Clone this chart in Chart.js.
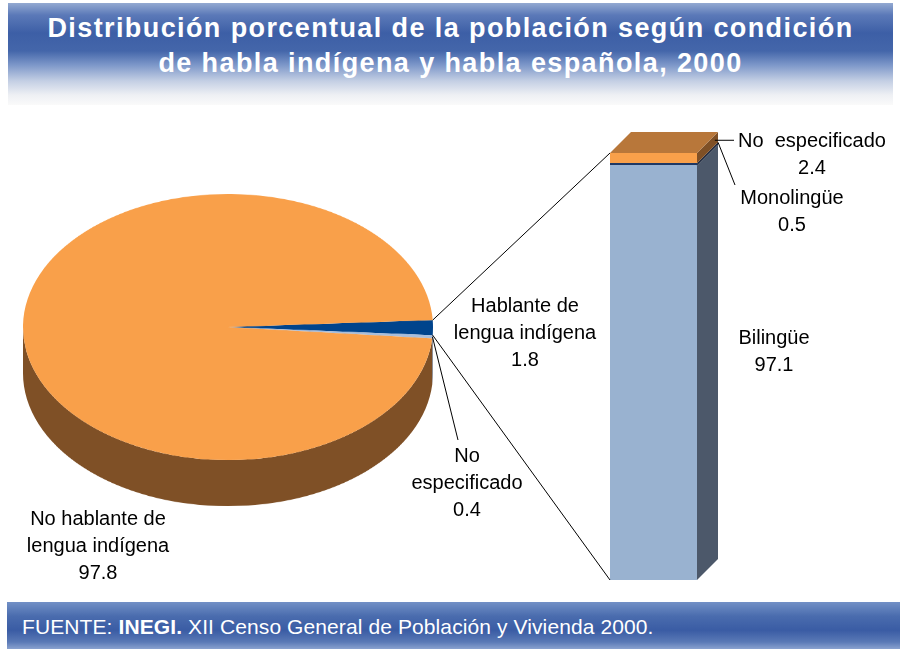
<!DOCTYPE html>
<html lang="es">
<head>
<meta charset="utf-8">
<title>Distribución porcentual de la población</title>
<script src="https://cdn.jsdelivr.net/npm/chart.js@4.4.1/dist/chart.umd.min.js"></script>
<style>
  body { margin: 0; width: 900px; height: 649px; background: #fff; position: relative; overflow: hidden;
         font-family: "Liberation Sans", Arial, sans-serif; }
  #titulo { position: absolute; left: 8px; top: 3px; width: 885px; height: 102px; box-sizing: border-box;
            padding-top: 8px; color: #fff; font-weight: bold; font-size: 27px; letter-spacing: 1.4px;
            line-height: 35px; text-align: center;
            background: linear-gradient(180deg, #93a9d1 0px, #5b79b8 12px, #3d5fa6 30px, #4466aa 48px,
                        #7d97c9 62px, #c4cfe4 78px, #eef0f4 92px, #fafafa 102px); }
  #fuente { position: absolute; left: 7px; top: 602px; width: 893px; height: 47px; box-sizing: border-box;
            padding-left: 15px; color: #fff; font-size: 21px; line-height: 49px; letter-spacing: 0.1px;
            background: linear-gradient(180deg, #7290c6 0%, #4a6cae 30%, #3a5ca4 60%, #5a79b6 85%, #8aa2cf 100%); }
  #pieBox { position: absolute; left: 23px; top: 194px; transform: scaleY(0.649); transform-origin: 0 0; }
  #barBox { position: absolute; left: 0; top: 0; pointer-events: none; }
</style>
</head>
<body>
<div id="titulo">Distribución porcentual de la población según condición<br>de habla indígena y habla española, 2000</div>

<div id="pieBox"><canvas id="pieChart" width="410" height="481"></canvas></div>
<div id="barBox"><canvas id="barChart" width="900" height="649"></canvas></div>

<div id="fuente">FUENTE: <b>INEGI.</b> XII Censo General de Población y Vivienda 2000.</div>

<script>
// datos
const pieLabels = ['Hablante de lengua indígena', 'No especificado', 'No hablante de lengua indígena'];
const pieValues = [1.8, 0.4, 97.8];
const pieColors = ['#00448c', '#a9bedb', '#f9a04a'];
const pieSideColors = ['#002c5c', '#8296b3', '#7f5026'];

const barLabels = ['Bilingüe', 'Monolingüe', 'No especificado'];
const barValues = [97.1, 0.5, 2.4];
const barColors = ['#99b2d0', '#1f3864', '#f9a04a'];
const barSideColors = ['#4c586a', '#18243a', '#7f5026'];
const barTopColor = '#b8773a';

// geometria del pastel "inclinado"
const PIE_LEFT = 23, PIE_TOP = 194, TILT = 0.649, DEPTH = 71;
const BAR_DX = 21, BAR_DY = 21;

// lados del pastel (cilindro)
const pieSide = {
  id: 'pieSide',
  beforeDatasetsDraw(chart) {
    const ctx = chart.ctx;
    chart.getDatasetMeta(0).data.forEach((arc, i) => {
      const p = arc.getProps(['x', 'y', 'startAngle', 'endAngle', 'outerRadius'], true);
      for (let k = -1; k <= 1; k++) {
        const lo = Math.max(p.startAngle, 2 * Math.PI * k);
        const hi = Math.min(p.endAngle, 2 * Math.PI * k + Math.PI);
        if (hi <= lo) continue;
        ctx.save();
        ctx.fillStyle = pieSideColors[i];
        ctx.beginPath();
        ctx.arc(p.x, p.y, p.outerRadius, lo, hi);
        ctx.arc(p.x, p.y + DEPTH, p.outerRadius, hi, lo, true);
        ctx.closePath();
        ctx.fill();
        ctx.restore();
      }
    });
  }
};

const pieChart = new Chart(document.getElementById('pieChart'), {
  type: 'pie',
  data: {
    labels: pieLabels,
    datasets: [{ data: pieValues, backgroundColor: pieColors, borderWidth: 0, hoverOffset: 0, offset: 0 }]
  },
  options: {
    responsive: false,
    animation: false,
    events: [],
    rotation: 87,
    layout: { padding: { bottom: DEPTH } },
    plugins: { legend: { display: false }, tooltip: { enabled: false } }
  },
  plugins: [pieSide]
});

function piePoint(arc, ang) {
  return {
    x: PIE_LEFT + arc.x + arc.outerRadius * Math.cos(ang),
    y: PIE_TOP + (arc.y + arc.outerRadius * Math.sin(ang)) * TILT
  };
}

function line(ctx, a, b) {
  ctx.beginPath();
  ctx.moveTo(a.x, a.y);
  ctx.lineTo(b.x, b.y);
  ctx.stroke();
}

function label(ctx, lines, x, y) {
  lines.forEach((t, i) => ctx.fillText(t, x, y + i * 27));
}

// barra 3D, lineas de conexion y etiquetas
const bar3d = {
  id: 'bar3d',
  afterDatasetsDraw(chart) {
    const ctx = chart.ctx;
    const n = chart.data.datasets.length;
    let topBar, baseBar, monoBar;
    for (let i = 0; i < n; i++) {
      const b = chart.getDatasetMeta(i).data[0].getProps(['x', 'y', 'base', 'width'], true);
      const l = b.x - b.width / 2, r = b.x + b.width / 2;
      ctx.fillStyle = barSideColors[i];
      ctx.beginPath();
      ctx.moveTo(r, b.y);
      ctx.lineTo(r + BAR_DX, b.y - BAR_DY);
      ctx.lineTo(r + BAR_DX, b.base - BAR_DY);
      ctx.lineTo(r, b.base);
      ctx.closePath();
      ctx.fill();
      if (i === n - 1) {
        ctx.fillStyle = barTopColor;
        ctx.beginPath();
        ctx.moveTo(l, b.y);
        ctx.lineTo(l + BAR_DX, b.y - BAR_DY);
        ctx.lineTo(r + BAR_DX, b.y - BAR_DY);
        ctx.lineTo(r, b.y);
        ctx.closePath();
        ctx.fill();
        topBar = { l, r, y: b.y, base: b.base };
      }
      if (i === 0) baseBar = { l, r, y: b.y, base: b.base };
      if (i === 1) monoBar = { l, r, y: b.y, base: b.base };
    }

    // conexiones con el pastel
    const arcs = pieChart.getDatasetMeta(0).data.map(a =>
      a.getProps(['x', 'y', 'startAngle', 'endAngle', 'outerRadius'], true));
    const hab = arcs[0], noesp = arcs[1];
    ctx.save();
    ctx.strokeStyle = '#000';
    ctx.lineWidth = 1;
    line(ctx, piePoint(hab, hab.startAngle), { x: topBar.l, y: topBar.y });
    line(ctx, piePoint(hab, hab.endAngle), { x: baseBar.l, y: baseBar.base });
    line(ctx, piePoint(noesp, (noesp.startAngle + noesp.endAngle) / 2), { x: 458, y: 440 });
    // guias de la barra
    const ne = { x: topBar.r + BAR_DX * 0.85, y: (topBar.y + topBar.base) / 2 - BAR_DY * 0.85 };
    line(ctx, ne, { x: 734, y: ne.y });
    const mo = { x: monoBar.r + BAR_DX, y: monoBar.y - BAR_DY };
    line(ctx, mo, { x: 735, y: 185 });

    // etiquetas
    ctx.fillStyle = '#000';
    ctx.font = '20px "Liberation Sans", Arial, sans-serif';
    ctx.textAlign = 'center';
    ctx.textBaseline = 'middle';
    label(ctx, ['No hablante de', 'lengua indígena', pieValues[2].toFixed(1)], 98, 519);
    label(ctx, ['Hablante de', 'lengua indígena', pieValues[0].toFixed(1)], 525, 306);
    label(ctx, ['No', 'especificado', pieValues[1].toFixed(1)], 467, 456);
    label(ctx, ['No  especificado', barValues[2].toFixed(1)], 812, 141);
    label(ctx, ['Monolingüe', barValues[1].toFixed(1)], 792, 198);
    label(ctx, ['Bilingüe', barValues[0].toFixed(1)], 774, 338);
    ctx.restore();
  }
};

new Chart(document.getElementById('barChart'), {
  type: 'bar',
  data: {
    labels: ['Hablante de lengua indígena'],
    datasets: barLabels.map((lab, i) => ({
      label: lab,
      data: [barValues[i]],
      backgroundColor: barColors[i],
      borderWidth: 0,
      barPercentage: 1,
      categoryPercentage: 1
    }))
  },
  options: {
    responsive: false,
    animation: false,
    events: [],
    layout: { padding: { left: 610, right: 203, top: 153, bottom: 69 } },
    scales: {
      x: { display: false, stacked: true },
      y: { display: false, stacked: true, min: 0, max: 100 }
    },
    plugins: { legend: { display: false }, tooltip: { enabled: false } }
  },
  plugins: [bar3d]
});
</script>
</body>
</html>
